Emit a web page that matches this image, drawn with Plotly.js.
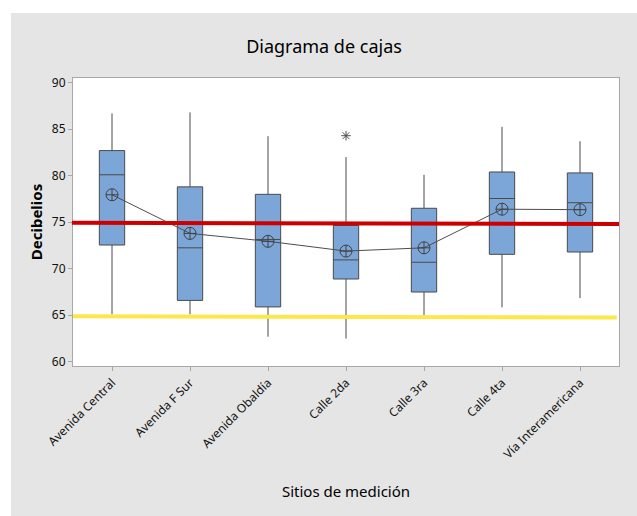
<!DOCTYPE html>
<html>
<head>
<meta charset="utf-8">
<script src="https://cdn.plot.ly/plotly-3.0.1.min.js"></script>
<style>
html,body{margin:0;padding:0;background:#ffffff;}
#chart{position:absolute;left:11px;top:13px;width:626px;height:503px;}
</style>
</head>
<body>
<div id="chart"></div>
<script>
var sites = ["Avenida Central","Avenida F Sur","Avenida Obaldía","Calle 2da","Calle 3ra","Calle 4ta","Vía Interamericana"];
var lowerWhisker = [65.1, 65.1, 62.7, 62.5, 65.0, 65.85, 66.85];
var q1 = [72.55, 66.6, 65.9, 68.9, 67.5, 71.55, 71.8];
var medians = [80.1, 72.25, 73.15, 70.95, 70.7, 77.55, 77.1];
var q3 = [82.7, 78.8, 78.0, 74.65, 76.5, 80.4, 80.3];
var upperWhisker = [86.7, 86.8, 84.25, 82.0, 80.1, 85.25, 83.7];
var means = [77.95, 73.8, 72.95, 71.9, 72.25, 76.4, 76.35];
var outlierSites = ["Calle 2da"];
var outlierValues = [84.3];
var limitHigh = [74.95, 74.8];
var limitLow = [64.9, 64.75];

var FONT = "Noto Sans, Open Sans, sans-serif";

var boxTrace = {
  type: "box",
  x: sites,
  q1: q1,
  median: medians,
  q3: q3,
  lowerfence: lowerWhisker,
  upperfence: upperWhisker,
  boxpoints: false,
  width: 0.325,
  whiskerwidth: 0,
  fillcolor: "#7ca6d8",
  line: {color: "#4a4a4a", width: 1},
  showlegend: false,
  hoverinfo: "skip"
};

var meanTrace = {
  type: "scatter",
  mode: "lines+markers",
  x: sites,
  y: means,
  line: {color: "#4d4d4d", width: 1},
  marker: {symbol: "circle-cross-open", size: 12, color: "#404040", line: {width: 1}},
  showlegend: false
};

var outlierTrace = {
  type: "scatter",
  mode: "markers",
  x: outlierSites,
  y: outlierValues,
  marker: {symbol: "asterisk-open", size: 8, color: "#505050", line: {width: 1, color: "#505050"}},
  showlegend: false
};

var layout = {
  width: 626,
  height: 503,
  paper_bgcolor: "#e5e5e5",
  plot_bgcolor: "#ffffff",
  margin: {l: 62, r: 18, t: 65, b: 150},
  font: {family: FONT, color: "#111111", size: 12},
  title: {text: "Diagrama de cajas", font: {family: FONT, size: 18, color: "#000000"}, x: 0.5, xanchor: "center", y: 1 - 34/503, yanchor: "middle"},
  xaxis: {
    type: "category",
    range: [-0.5, 6.5],
    showline: true, mirror: true, linecolor: "#a8a8a8", linewidth: 1,
    ticks: "outside", ticklen: 4, tickcolor: "#a8a8a8",
    tickangle: -45,
    tickfont: {family: FONT, size: 12, color: "#111111"},
    showgrid: false, zeroline: false,
    title: {text: "Sitios de medición", font: {family: FONT, size: 15, color: "#000000"}, standoff: 25}
  },
  yaxis: {
    range: [59.55, 90.5],
    tickvals: [60, 65, 70, 75, 80, 85, 90],
    showline: true, mirror: true, linecolor: "#a8a8a8", linewidth: 1,
    ticks: "outside", ticklen: 4, tickcolor: "#a8a8a8",
    tickfont: {family: FONT, size: 12, color: "#111111"},
    showgrid: false, zeroline: false,
    title: {text: "<b>Decibelios</b>", font: {family: FONT, size: 15, color: "#000000"}, standoff: 5}
  },
  shapes: [
    {type: "line", xref: "paper", yref: "y", x0: -0.002, x1: 1, y0: limitHigh[0], y1: limitHigh[1], line: {color: "#cc0000", width: 4}, layer: "above"},
    {type: "line", xref: "paper", yref: "y", x0: 0, x1: 0.996, y0: limitLow[0], y1: limitLow[1], line: {color: "#fde84c", width: 4}, layer: "above"}
  ]
};

Plotly.newPlot("chart", [boxTrace, meanTrace, outlierTrace], layout, {displayModeBar: false, staticPlot: true});
</script>
</body>
</html>
